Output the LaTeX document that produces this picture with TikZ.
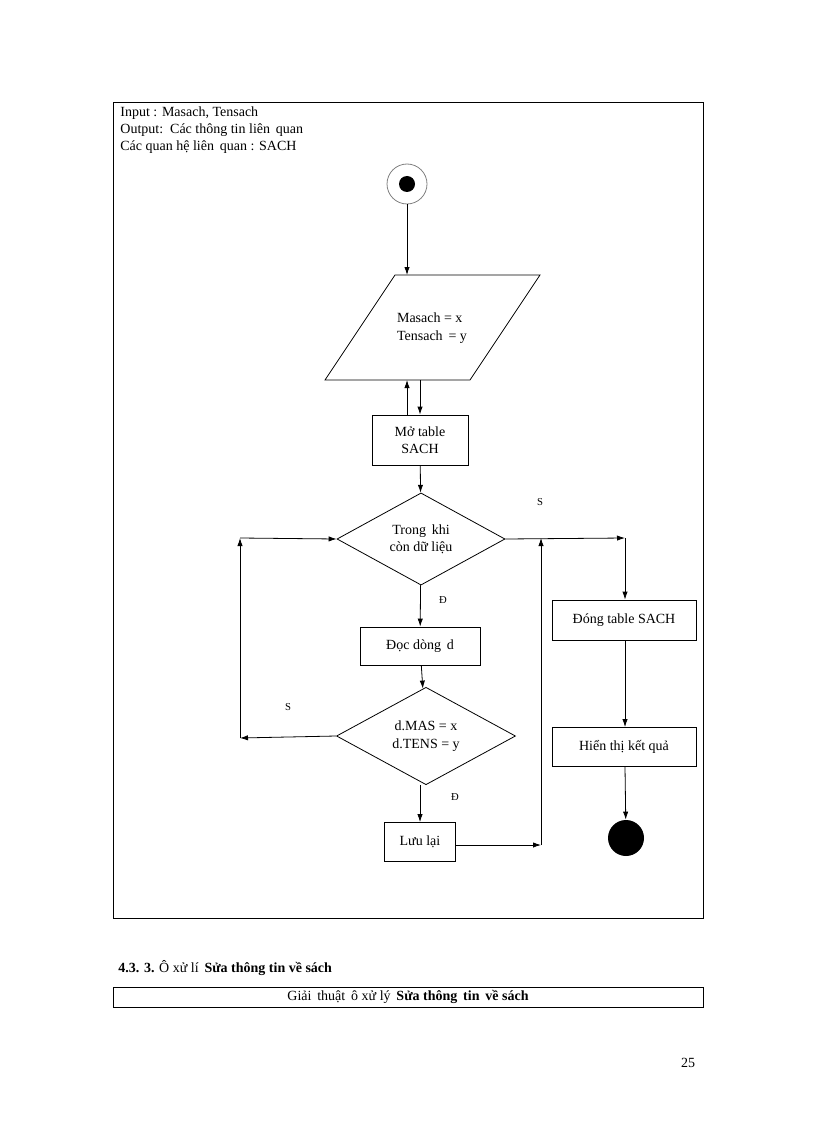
\documentclass[tikz,border=0pt]{standalone}
\usepackage{fontspec}
\setmainfont{Liberation Serif}
\usetikzlibrary{shapes.geometric,arrows.meta}
\begin{document}
\begin{tikzpicture}[
  x=0.75pt, y=-0.75pt,
  font=\fontsize{10.5}{13}\selectfont,
  every path/.style={line width=0.6pt},
  step_box/.style={rectangle, draw, align=center, inner sep=0pt},
  test_box/.style={diamond, draw, align=center, inner sep=0pt},
  flow/.style={-{Latex[length=6pt,width=4pt]}},
  branch_label/.style={font=\fontsize{8}{9}\selectfont},
]
\useasboundingbox (0,0) rectangle (816,1123);
\draw (113,102) rectangle (703,918);
\node (info) [anchor=north west, align=left, inner sep=0pt] at (120,106)
  {Input : Masach, Tensach\\Output:\, Các thông tin liên\, quan\\Các quan hệ liên\, quan : SACH};
% start / end
\node (start) [circle, draw=gray, minimum size=40*0.75pt] at (407,184) {};
\fill (start.center) circle (8);
\node (stop) [circle, fill, minimum size=36*0.75pt] at (626,838) {};
% input
\draw (395,275) -- (540,275) -- (470,380) -- (325,380) -- cycle;
\node (io) [minimum width=215*0.75pt, minimum height=105*0.75pt, align=left] at (432,328) {Masach = x\\Tensach\, = y};
\node (open) [step_box, minimum width=96*0.75pt, minimum height=50*0.75pt] at (420,440) {Mở table\\SACH};
\node (loop) [test_box, minimum width=168*0.75pt, minimum height=89*0.75pt] at (421,539) {Trong\, khi\\còn dữ liệu};
\node (read) [step_box, minimum width=120*0.75pt, minimum height=38*0.75pt] at (420,646) {Đọc dòng\, d};
\node (check) [test_box, minimum width=179*0.75pt, minimum height=88*0.75pt] at (426,736) {d.MAS = x\\d.TENS = y};
\node (save) [step_box, minimum width=71*0.75pt, minimum height=39*0.75pt] at (420,842) {Lưu lại};
\node (close) [step_box, minimum width=144*0.75pt, minimum height=40*0.75pt] at (624,620) {Đóng table SACH};
\node (show) [step_box, minimum width=144*0.75pt, minimum height=39*0.75pt] at (624,747) {Hiển thị kết quả};
% connectors
\coordinate (inbot) at (407,380);
\coordinate (inbot2) at (420,380);
\coordinate (intop) at (407,275);
\coordinate (opentop) at (407,415);
\coordinate (lft) at (240,538);
\coordinate (lfb) at (240,738);
\coordinate (rgt) at (541,538);
\coordinate (rgb) at (541,845);
\coordinate (out) at (625,538);
\draw[flow] (start) -- (intop);
\draw[flow] (opentop) -- (inbot);
\draw[flow] (inbot2) -- (open.north);
\draw[flow] (open) -- (loop);
\draw[flow] (loop) -- (read);
\draw[flow] (read) -- (check);
\draw[flow] (check.south -| save.north) -- (save);
\draw[flow] (check.west) -- (lfb);
\draw[flow] (lfb) -- (lft);
\draw[flow] (lft) -- (loop.west);
\draw[flow] (save.east |- rgb) -- (rgb);
\draw[flow] (rgb) -- (rgt);
\draw[flow] (loop.east) -- (out);
\draw[flow] (out) -- (close.north -| out);
\draw[flow] (close.south -| out) -- (show.north -| out);
\draw[flow] (show.south -| out) -- (stop);
\node (s1) [branch_label] at (540,502) {S};
\node (d1) [branch_label] at (443,600) {Đ};
\node (s2) [branch_label] at (288,707) {S};
\node (d2) [branch_label] at (455,797) {Đ};
% below the frame
\node (head) [anchor=west, inner sep=0pt] at (118,968) {\textbf{4.3. 3.} Ô xử lí\, \textbf{Sửa thông tin về sách}};
\node (algo) [step_box, minimum width=590*0.75pt, minimum height=20*0.75pt] at (408,997) {Giải\, thuật\, ô xử lý\, \textbf{Sửa thông\, tin\, về sách}};
\node (page) at (688,1063) {25};
\end{tikzpicture}
\end{document}
